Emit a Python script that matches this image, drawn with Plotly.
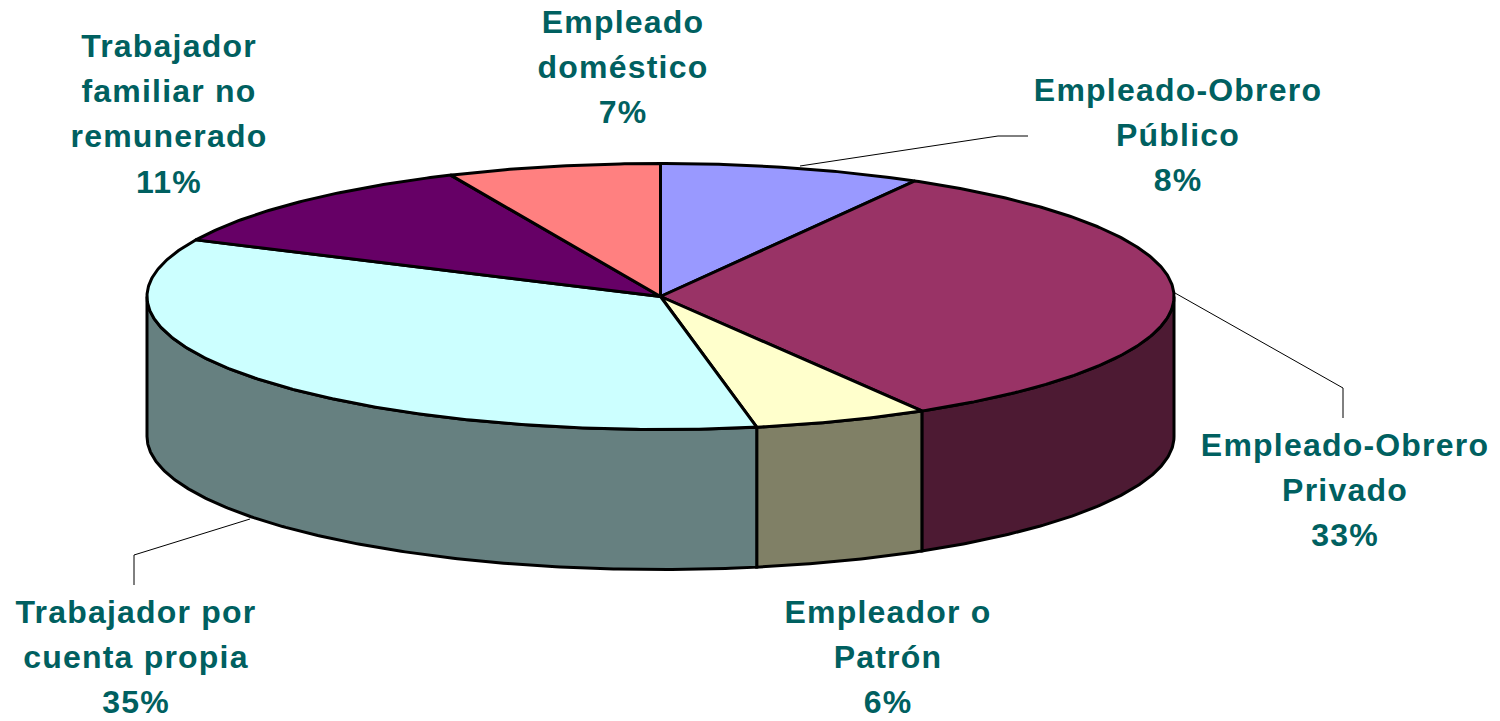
import numpy as np
import plotly.graph_objects as go

# ---- data (clockwise from 12 o'clock)
categories = ["Empleado-Obrero Público", "Empleado-Obrero Privado", "Empleador o Patrón",
              "Trabajador por cuenta propia", "Trabajador familiar no remunerado", "Empleado doméstico"]
values = [8.25, 33.25, 5.5, 35.0, 11.3, 6.7]
top_colors = ["#9999FF", "#993366", "#FFFFCC", "#CCFFFF", "#660066", "#FF8080"]
side_colors = ["#4D4D80", "#4D1A33", "#808066", "#668080", "#330033", "#804040"]

label_lines = [
    ["Empleado-Obrero", "Público", "8%"],
    ["Empleado-Obrero", "Privado", "33%"],
    ["Empleador o", "Patrón", "6%"],
    ["Trabajador por", "cuenta propia", "35%"],
    ["Trabajador", "familiar no", "remunerado", "11%"],
    ["Empleado", "doméstico", "7%"],
]

# ---- layout geometry (canvas pixels)
CX, CY, RX, RY, DEPTH = 660.5, 296.5, 513.5, 133.0, 140.0
label_anchor = [(1178, 93), (1345, 448), (888, 615), (136, 615), (169, 49), (623, 25)]
LINE_STEP = 45.2
leaders = [
    ([800, 998, 1028], [166, 136, 136]),
    ([1175, 1343, 1343], [293, 388, 418]),
    ([250, 134, 134], [519, 555, 585]),
]
TEXT_COLOR = "#006060"


def arc(a0, a1, dy=0.0):
    t = np.radians(np.linspace(a0, a1, max(2, int(abs(a1 - a0) * 2) + 1)))
    return CX + RX * np.sin(t), CY - RY * np.cos(t) + dy


fig = go.Figure()
edges = np.concatenate([[0], np.cumsum(values)]) * 360.0 / sum(values)

# sides (only the front half of the disc is visible)
for i, cat in enumerate(categories):
    a0, a1 = max(edges[i], 90), min(edges[i + 1], 270)
    if a1 <= a0:
        continue
    xt, yt = arc(a0, a1)
    xb, yb = arc(a1, a0, DEPTH)
    fig.add_trace(go.Scatter(
        x=np.r_[xt, xb, xt[0]], y=np.r_[yt, yb, yt[0]], mode="lines", fill="toself",
        fillcolor=side_colors[i], line=dict(color="black", width=3), hoverinfo="skip",
        name=cat + " (lado)", showlegend=False))

# top face
for i, cat in enumerate(categories):
    xt, yt = arc(edges[i], edges[i + 1])
    fig.add_trace(go.Scatter(
        x=np.r_[CX, xt, CX], y=np.r_[CY, yt, CY], mode="lines", fill="toself",
        fillcolor=top_colors[i], line=dict(color="black", width=3), hoverinfo="skip",
        name=cat, showlegend=False))

# leader lines
for lx, ly in leaders:
    fig.add_trace(go.Scatter(x=lx, y=ly, mode="lines", line=dict(color="black", width=1),
                             hoverinfo="skip", showlegend=False))

# labels, one text item per line for the original line pitch
for (ax, ay), lines in zip(label_anchor, label_lines):
    fig.add_trace(go.Scatter(
        x=[ax] * len(lines), y=[ay + k * LINE_STEP for k in range(len(lines))],
        text=lines, mode="text", textposition="middle center",
        textfont=dict(family="Liberation Sans", size=32, color=TEXT_COLOR, weight="bold"),
        hoverinfo="skip", showlegend=False))

fig.update_layout(
    width=1500, height=721, margin=dict(l=0, r=0, t=0, b=0), autosize=False,
    paper_bgcolor="white", plot_bgcolor="white", showlegend=False,
    xaxis=dict(range=[0, 1500], visible=False, fixedrange=True),
    yaxis=dict(range=[721, 0], visible=False, fixedrange=True),
)
fig.write_html(
    "out.html", config={"displayModeBar": False},
    post_script="document.body.style.margin='0';"
                "document.querySelectorAll('.textpoint text').forEach(function(t){t.style.letterSpacing='1.2px';});",
)
